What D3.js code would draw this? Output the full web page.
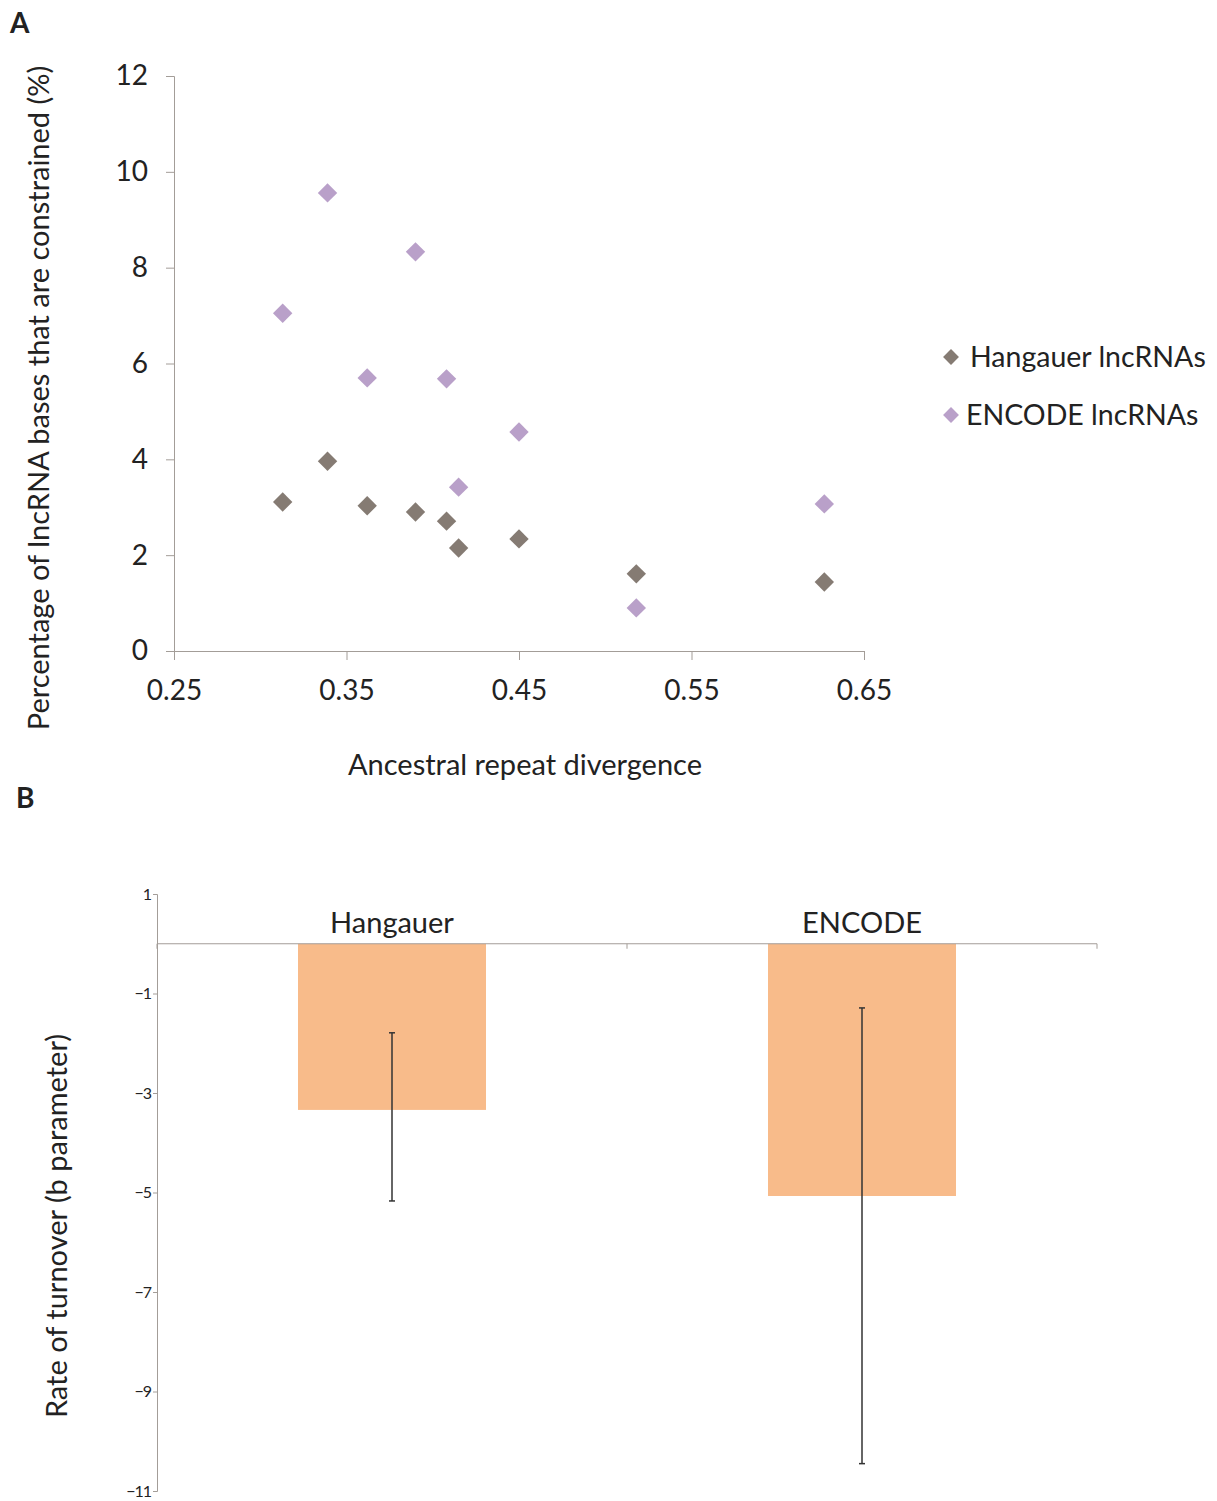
<!DOCTYPE html>
<html lang="en">
<head>
<meta charset="utf-8">
<title>lncRNA constraint and turnover</title>
<style>
  body { margin: 0; background: #fff; }
  svg text { font-family: Lato, "Open Sans", sans-serif; fill: #222; }
  .axis path, .axis line { stroke: #a39d98; }
</style>
<script src="https://cdn.jsdelivr.net/npm/d3@7"></script>
</head>
<body>
<svg width="1217" height="1501"></svg>
<script>
// panel A data
var divergence = [0.313, 0.339, 0.362, 0.390, 0.408, 0.415, 0.450, 0.518, 0.627];
var hangauerPct = [3.11, 3.96, 3.03, 2.90, 2.71, 2.15, 2.34, 1.61, 1.44];
var encodePct = [7.05, 9.56, 5.70, 8.33, 5.68, 3.42, 4.57, 0.90, 3.07];
var xTicksA = [0.25, 0.35, 0.45, 0.55, 0.65];
var yTicksA = [0, 2, 4, 6, 8, 10, 12];
var seriesNames = ["Hangauer lncRNAs", "ENCODE lncRNAs"];
var seriesColors = ["#857b73", "#b9a0c9"];

// panel B data
var groups = ["Hangauer", "ENCODE"];
var turnover = [-3.34, -5.07];
var errLow = [-5.17, -10.45];
var errHigh = [-1.79, -1.29];
var yTicksB = [1, -1, -3, -5, -7, -9, -11];

var svg = d3.select("svg");

// ---------- panel A ----------
var xA = d3.scaleLinear().domain([0.25, 0.65]).range([174, 864]);
var yA = d3.scaleLinear().domain([0, 12]).range([651, 76]);

svg.append("text").attr("x", 10).attr("y", 33)
  .style("font-weight", "bold").style("font-size", "28px").text("A");

var gxA = svg.append("g").attr("class", "axis")
  .attr("transform", "translate(0," + yA(0) + ")")
  .call(d3.axisBottom(xA).tickValues(xTicksA).tickSize(9).tickPadding(20)
    .tickFormat(d3.format(".2f")));
gxA.selectAll("text").style("font-size", "28px").style("font-family", "Lato, sans-serif").attr("fill", "#222");

var gyA = svg.append("g").attr("class", "axis")
  .attr("transform", "translate(" + xA(0.25) + ",0)")
  .call(d3.axisLeft(yA).tickValues(yTicksA).tickSize(8).tickPadding(18));
gyA.selectAll("text").style("font-size", "28px").style("font-family", "Lato, sans-serif").attr("fill", "#222");

var diamond = d3.symbol().type(d3.symbolDiamond2);

svg.append("g").selectAll("path.h")
  .data(divergence).enter().append("path")
  .attr("d", diamond.size(240)())
  .attr("transform", function(d, i) { return "translate(" + xA(d) + "," + yA(hangauerPct[i]) + ")"; })
  .attr("fill", seriesColors[0]);

svg.append("g").selectAll("path.e")
  .data(divergence).enter().append("path")
  .attr("d", diamond.size(240)())
  .attr("transform", function(d, i) { return "translate(" + xA(d) + "," + yA(encodePct[i]) + ")"; })
  .attr("fill", seriesColors[1]);

svg.append("text")
  .attr("x", 525).attr("y", 775).attr("text-anchor", "middle")
  .style("font-size", "29px").text("Ancestral repeat divergence");

svg.append("text")
  .attr("transform", "translate(49,398) rotate(-90)")
  .attr("text-anchor", "middle")
  .style("font-size", "29px").text("Percentage of lncRNA bases that are constrained (%)");

// legend
var leg = svg.append("g");
seriesNames.forEach(function(name, i) {
  var yy = 357 + i * 58;
  leg.append("path").attr("d", diamond.size(160)())
    .attr("transform", "translate(" + 951 + "," + yy + ")")
    .attr("fill", seriesColors[i]);
  leg.append("text").attr("x", i == 0 ? 970 : 966).attr("y", yy + 10)
    .style("font-size", "28.5px").text(name);
});

// ---------- panel B ----------
var xB = d3.scaleBand().domain(groups).range([157, 1097]).paddingInner(0).paddingOuter(0);
var yB = d3.scaleLinear().domain([-11, 1]).range([1491, 894]);
var barW = 188;

svg.append("text").attr("x", 16).attr("y", 808)
  .style("font-weight", "bold").style("font-size", "28px").text("B");

svg.append("g").selectAll("rect")
  .data(groups).enter().append("rect")
  .attr("x", function(d) { return xB(d) + xB.bandwidth() / 2 - barW / 2; })
  .attr("width", barW)
  .attr("y", yB(0))
  .attr("height", function(d, i) { return yB(turnover[i]) - yB(0); })
  .attr("fill", "#f8bb8a");

var gyB = svg.append("g").attr("class", "axis")
  .attr("transform", "translate(" + 157 + ",0)")
  .call(d3.axisLeft(yB).tickValues(yTicksB).tickSize(4).tickPadding(2));
gyB.selectAll("text").style("font-size", "16px").style("font-family", "Lato, sans-serif")
  .style("letter-spacing", "-1px").attr("fill", "#222");

// category axis at zero
var gxB = svg.append("g").attr("class", "axis")
  .attr("transform", "translate(0," + yB(0) + ")");
gxB.append("line").attr("x1", 157).attr("x2", 1097).attr("y1", 0).attr("y2", 0).attr("stroke", "#a39d98");
gxB.selectAll("line.tk")
  .data([157, xB("ENCODE"), xB("ENCODE") + xB.bandwidth()]).enter().append("line")
  .attr("x1", function(d) { return d; }).attr("x2", function(d) { return d; })
  .attr("y1", 0).attr("y2", 5).attr("stroke", "#a39d98");
gxB.selectAll("text")
  .data(groups).enter().append("text")
  .attr("x", function(d) { return xB(d) + xB.bandwidth() / 2; })
  .attr("y", -11).attr("text-anchor", "middle")
  .style("font-size", "29px").text(function(d) { return d; });

// error bars
var eb = svg.append("g");
groups.forEach(function(g, i) {
  var cx = xB(g) + xB.bandwidth() / 2;
  eb.append("line").attr("x1", cx).attr("x2", cx)
    .attr("y1", yB(errHigh[i])).attr("y2", yB(errLow[i]))
    .attr("stroke", "#333").attr("stroke-width", 1.5);
  [errHigh[i], errLow[i]].forEach(function(v) {
    eb.append("line").attr("x1", cx - 3).attr("x2", cx + 3)
      .attr("y1", yB(v)).attr("y2", yB(v))
      .attr("stroke", "#333").attr("stroke-width", 1.5);
  });
});

svg.append("text")
  .attr("transform", "translate(67,1226) rotate(-90)")
  .attr("text-anchor", "middle")
  .style("font-size", "29px").text("Rate of turnover (b parameter)");
</script>
</body>
</html>
